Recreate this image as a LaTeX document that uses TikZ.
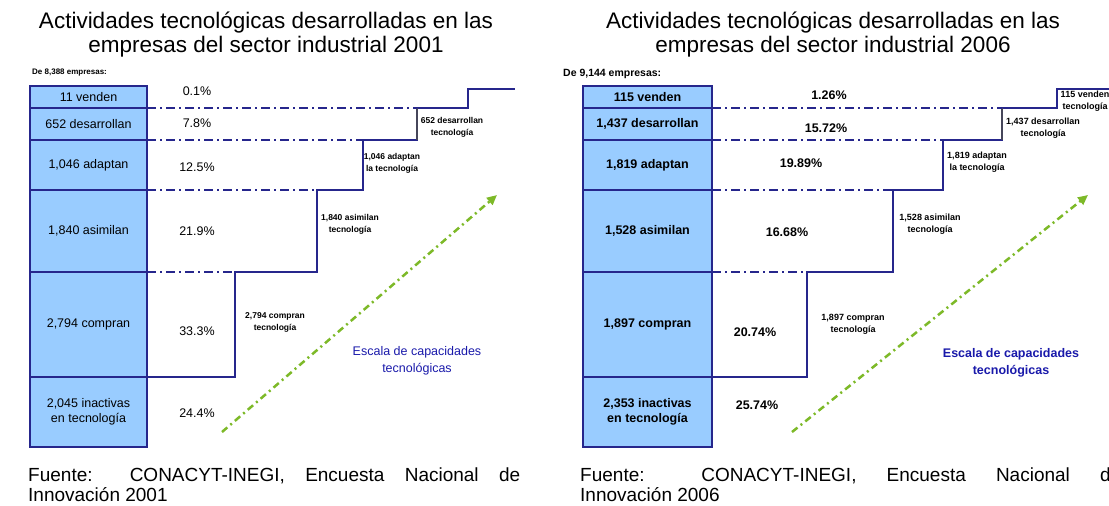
\documentclass[tikz,border=0pt]{standalone}
\usepackage{fontspec}
\setmainfont{Liberation Sans}
\usepackage{tikz}
\usetikzlibrary{arrows.meta}
\definecolor{navyline}{RGB}{38,38,140}
\definecolor{cellblue}{RGB}{153,204,255}
\definecolor{greenscale}{RGB}{125,185,40}
\definecolor{bluescale}{RGB}{25,25,170}
\definecolor{darkstep}{RGB}{70,70,90}
\newcommand{\hdfont}    {\fontsize{22.5}{24}\selectfont}
\newcommand{\srcfont}   {\fontsize{19}{20}\selectfont}
\newcommand{\cellfont}  {\fontsize{12.5}{15.5}\selectfont}
\newcommand{\stepfont}  {\fontsize{8.5}{12}\selectfont\bfseries}
\newcommand{\capfont}   {\fontsize{12.5}{17}\selectfont}

\begin{document}
\begin{tikzpicture}[x=1pt,y=-1pt,
    cell/.style={draw=navyline,line width=1.2pt,fill=cellblue,minimum width=#1,
      inner sep=0pt,outer sep=0pt,align=center,font=\cellfont},
    rcell/.style={cell=129pt,font=\cellfont\bfseries},
    pct/.style={inner sep=0pt,font=\cellfont},
    rpct/.style={pct,font=\cellfont\bfseries},
    steplabel/.style={inner sep=0pt,align=center,font=\stepfont},
    stair/.style={navyline,line width=2pt},
    levelline/.style={navyline,line width=2pt,dash pattern=on 9pt off 4pt on 2pt off 4pt},
    scalearrow/.style={greenscale,line width=2.5pt,dash pattern=on 7pt off 4pt on 2pt off 4pt,
      -{Triangle[length=10pt,width=9pt]}},
    scalelabel/.style={bluescale,inner sep=0pt,align=center,font=\capfont},
    source/.style={inner sep=0pt,anchor=north west,align=justify,font=\srcfont},
    headline/.style={inner sep=0pt,align=center,font=\hdfont,anchor=base}]
  \useasboundingbox (0,0) rectangle (1109,506);

  % ---- 2001 ----
  \node[headline] (head01) at (266,52) {Actividades tecnológicas desarrolladas en las\\empresas del sector industrial 2001};
  \node[inner sep=0pt,anchor=west,font=\fontsize{8}{8}\selectfont\bfseries] (tot01) at (32,73) {De 8,388 empresas:};
  \node[cell=117pt,minimum height=22pt]  (ven01) at (88.5,97)    {11 venden};
  \node[cell=117pt,minimum height=32pt]  (des01) at (88.5,124)   {652 desarrollan};
  \node[cell=117pt,minimum height=50pt]  (ada01) at (88.5,165)   {1,046 adaptan};
  \node[cell=117pt,minimum height=82pt]  (asi01) at (88.5,231)   {1,840 asimilan};
  \node[cell=117pt,minimum height=105pt] (com01) at (88.5,324.5) {2,794 compran};
  \node[cell=117pt,minimum height=70pt]  (ina01) at (88.5,412)   {2,045 inactivas\\en tecnología};
  \draw[navyline,line width=2pt] (ven01.north west) rectangle (ina01.south east);
  \node[pct] (pven01) at (197,91)  {0.1\%};
  \node[pct] (pdes01) at (197,123) {7.8\%};
  \node[pct] (pada01) at (197,167) {12.5\%};
  \node[pct] (pasi01) at (197,231) {21.9\%};
  \node[pct] (pcom01) at (197,331) {33.3\%};
  \node[pct] (pina01) at (197,413) {24.4\%};
  \coordinate (a1) at (235,377);  \coordinate (a2) at (235,272);
  \coordinate (a3) at (317,272);  \coordinate (a4) at (317,190);
  \coordinate (a5) at (363,190);  \coordinate (a6) at (363,140);
  \coordinate (a7) at (417,140);  \coordinate (a8) at (417,108);
  \coordinate (a9) at (468,108);  \coordinate (a10) at (468,89);
  \coordinate (a11) at (515,89);
  \draw[stair] (com01.south east) -- (a1) -- (a2) -- (a3) -- (a4) -- (a5) -- (a6)
    -- (a7) -- (a8) -- (a9) -- (a10) -- (a11);
  \draw[darkstep,line width=2pt] (a7) -- (a8);
  \draw[levelline] (ven01.south east) -- (a8);
  \draw[levelline] (des01.south east) -- (a6);
  \draw[levelline] (ada01.south east) -- (a4);
  \draw[levelline] (asi01.south east) -- (a2);
  \node[steplabel] (scom01) at (275,322) {2,794 compran\\tecnología};
  \node[steplabel] (sasi01) at (350,224) {1,840 asimilan\\tecnología};
  \node[steplabel] (sada01) at (392,163) {1,046 adaptan\\la tecnología};
  \node[steplabel] (sdes01) at (452,127) {652 desarrollan\\tecnología};
  \coordinate (g01) at (222,432);
  \coordinate (h01) at (497,195);
  \draw[scalearrow] (g01) -- (h01);
  \node[scalelabel] (esc01) at (417,361) {Escala de capacidades\\tecnológicas};
  \node[source,text width=492pt] (src01) at (28,468) {Fuente: CONACYT-INEGI, Encuesta Nacional de\linebreak Innovación 2001};

  % ---- 2006 ----
  \node[headline] (head06) at (833,52) {Actividades tecnológicas desarrolladas en las\\empresas del sector industrial 2006};
  \node[inner sep=0pt,anchor=west,font=\fontsize{10.5}{10.5}\selectfont\bfseries] (tot06) at (563,74) {De 9,144 empresas:};
  \node[rcell,minimum height=22pt]  (ven06) at (647.5,97)    {115 venden};
  \node[rcell,minimum height=32pt]  (des06) at (647.5,124)   {1,437 desarrollan};
  \node[rcell,minimum height=50pt]  (ada06) at (647.5,165)   {1,819 adaptan};
  \node[rcell,minimum height=82pt]  (asi06) at (647.5,231)   {1,528 asimilan};
  \node[rcell,minimum height=105pt] (com06) at (647.5,324.5) {1,897 compran};
  \node[rcell,minimum height=70pt]  (ina06) at (647.5,412)   {2,353 inactivas\\en tecnología};
  \draw[navyline,line width=2pt] (ven06.north west) rectangle (ina06.south east);
  \node[rpct] (pven06) at (829,95)  {1.26\%};
  \node[rpct] (pdes06) at (826,128) {15.72\%};
  \node[rpct] (pada06) at (801,163) {19.89\%};
  \node[rpct] (pasi06) at (787,232) {16.68\%};
  \node[rpct] (pcom06) at (755,332) {20.74\%};
  \node[rpct] (pina06) at (757,405) {25.74\%};
  \coordinate (b1) at (807,377);  \coordinate (b2) at (807,272);
  \coordinate (b3) at (893,272);  \coordinate (b4) at (893,190);
  \coordinate (b5) at (943,190);  \coordinate (b6) at (943,140);
  \coordinate (b7) at (1002,140); \coordinate (b8) at (1002,108);
  \coordinate (b9) at (1057,108); \coordinate (b10) at (1057,89);
  \coordinate (b11) at (1109,89);
  \draw[stair] (com06.south east) -- (b1) -- (b2) -- (b3) -- (b4) -- (b5) -- (b6)
    -- (b7) -- (b8) -- (b9) -- (b10) -- (b11);
  \draw[darkstep,line width=2pt] (b7) -- (b8);
  \draw[levelline] (ven06.south east) -- (b8);
  \draw[levelline] (des06.south east) -- (b6);
  \draw[levelline] (ada06.south east) -- (b4);
  \draw[levelline] (asi06.south east) -- (b2);
  \node[steplabel,font=\fontsize{9}{12}\selectfont\bfseries] (scom06) at (853,324) {1,897 compran\\tecnología};
  \node[steplabel,font=\fontsize{9}{12}\selectfont\bfseries] (sasi06) at (930,224) {1,528 asimilan\\tecnología};
  \node[steplabel,font=\fontsize{9}{12}\selectfont\bfseries] (sada06) at (977,162) {1,819 adaptan\\la tecnología};
  \node[steplabel,font=\fontsize{9}{12}\selectfont\bfseries] (sdes06) at (1043,128) {1,437 desarrollan\\tecnología};
  \node[steplabel,font=\fontsize{9}{12}\selectfont\bfseries] (sven06) at (1085,101) {115 venden\\tecnología};
  \coordinate (g06) at (792,432);
  \coordinate (h06) at (1088,195);
  \draw[scalearrow] (g06) -- (h06);
  \node[scalelabel,font=\capfont\bfseries] (esc06) at (1011,363) {Escala de capacidades\\tecnológicas};
  \node[source,text width=541pt] (src06) at (580,468) {Fuente: CONACYT-INEGI, Encuesta Nacional de\linebreak Innovación 2006};
\end{tikzpicture}
\end{document}
